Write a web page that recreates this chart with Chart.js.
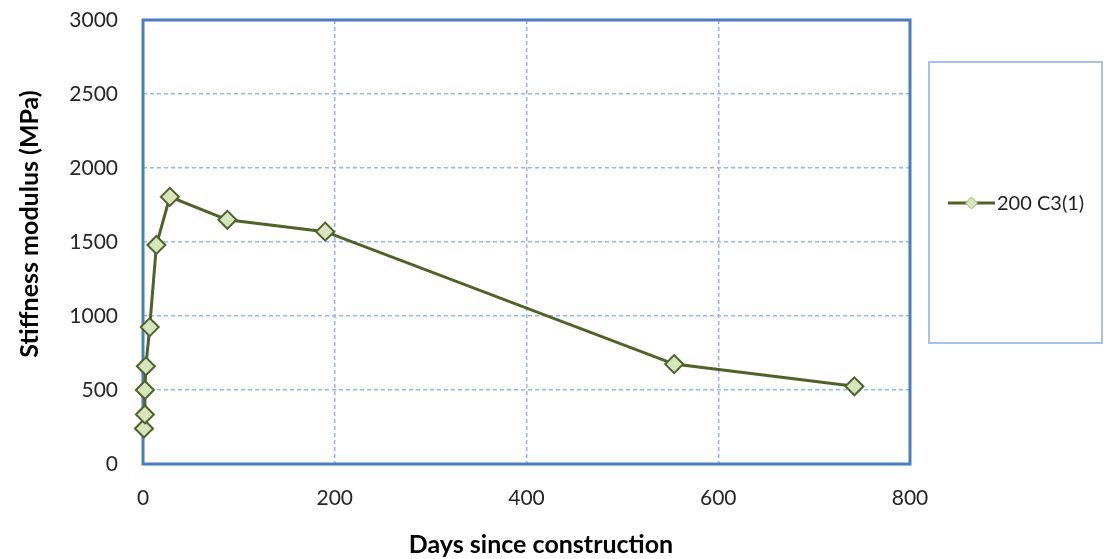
<!DOCTYPE html>
<html>
<head>
<meta charset="utf-8">
<script src="https://cdn.jsdelivr.net/npm/chart.js@4.4.1/dist/chart.umd.min.js"></script>
<style>
  html, body { margin: 0; padding: 0; background: #ffffff; }
  #wrap { width: 1117px; height: 559px; }
</style>
</head>
<body>
<div id="wrap"><canvas id="c" width="1117" height="559"></canvas></div>
<script>
// Stiffness modulus of section 200 C3(1) against time since construction
const seriesLabel = '200 C3(1)';
const days = [1, 2, 2, 3, 7, 14, 28, 88, 190, 554, 742];
const stiffness = [240, 335, 500, 660, 925, 1480, 1805, 1650, 1570, 675, 525];
const xTicks = [0, 200, 400, 600, 800];
const yTicks = [0, 500, 1000, 1500, 2000, 2500, 3000];
const xTitle = 'Days since construction';
const yTitle = 'Stiffness modulus (MPa)';

const FONT = 'Lato, "Open Sans", sans-serif';
const LINE = '#4F6228';
const FILL = '#D7E4BD';
const FRAME = '#4A7EBB';
const GRID = '#95B9E6';

const points = days.map((d, i) => ({ x: d, y: stiffness[i] }));

// Blue frame round the plot area, drawn before the markers so they sit on top
const framePlugin = {
  id: 'frame',
  beforeDatasetsDraw(chart) {
    const { ctx, chartArea: a } = chart;
    ctx.save();
    ctx.strokeStyle = FRAME;
    ctx.lineWidth = 3;
    ctx.strokeRect(a.left, a.top, a.right - a.left, a.bottom - a.top);
    ctx.restore();
  }
};

// Axis titles in bold
const titlesPlugin = {
  id: 'axisTitles',
  afterDraw(chart) {
    const { ctx } = chart;
    ctx.save();
    ctx.fillStyle = '#000000';
    ctx.font = 'bold 25px ' + FONT;
    ctx.textAlign = 'center';
    ctx.textBaseline = 'middle';
    ctx.fillText(xTitle, 541, 545);
    ctx.translate(30, 224);
    ctx.rotate(-Math.PI / 2);
    ctx.fillText(yTitle, 0, 0);
    ctx.restore();
  }
};

// Boxed legend to the right of the plot
const legendBoxPlugin = {
  id: 'legendBox',
  afterDraw(chart) {
    const { ctx } = chart;
    const ds = chart.data.datasets[0];
    const box = { x: 929, y: 62, w: 173, h: 281 };
    ctx.save();
    ctx.strokeStyle = '#A7C2E6';
    ctx.lineWidth = 2;
    ctx.strokeRect(box.x, box.y, box.w, box.h);
    const cy = 203;
    ctx.strokeStyle = ds.borderColor;
    ctx.lineWidth = 3;
    ctx.beginPath();
    ctx.moveTo(948, cy);
    ctx.lineTo(995, cy);
    ctx.stroke();
    const r = 6;
    ctx.beginPath();
    ctx.moveTo(971.5, cy - r);
    ctx.lineTo(971.5 + r, cy);
    ctx.lineTo(971.5, cy + r);
    ctx.lineTo(971.5 - r, cy);
    ctx.closePath();
    ctx.fillStyle = ds.pointBackgroundColor;
    ctx.fill();
    ctx.strokeStyle = '#9BBB59';
    ctx.lineWidth = 1;
    ctx.stroke();
    ctx.fillStyle = '#222222';
    ctx.font = '20px ' + FONT;
    ctx.textAlign = 'left';
    ctx.textBaseline = 'middle';
    ctx.fillText(ds.label, 997, cy + 1);
    ctx.restore();
  }
};

new Chart(document.getElementById('c'), {
  type: 'scatter',
  data: {
    datasets: [{
      label: seriesLabel,
      data: points,
      showLine: true,
      borderColor: LINE,
      borderWidth: 3,
      pointStyle: 'rectRot',
      pointRadius: 9,
      pointHoverRadius: 9,
      pointBackgroundColor: FILL,
      pointBorderColor: LINE,
      pointBorderWidth: 2,
      clip: false,
      tension: 0
    }]
  },
  options: {
    responsive: false,
    animation: false,
    events: [],
    layout: { padding: { top: 20, right: 207, bottom: 0, left: 0 } },
    plugins: {
      legend: { display: false },
      tooltip: { enabled: false }
    },
    scales: {
      x: {
        type: 'linear',
        min: xTicks[0],
        max: xTicks[xTicks.length - 1],
        afterBuildTicks(scale) { scale.ticks = xTicks.map(v => ({ value: v })); },
        afterFit(scale) { scale.height = 95; },
        border: { display: false, dash: [4, 3] },
        grid: {
          color: GRID,
          lineWidth: 1.5,
          drawTicks: true,
          tickLength: 22,
          tickColor: 'rgba(0,0,0,0)'
        },
        ticks: {
          color: '#262626',
          font: { family: FONT, size: 21 },
          padding: 0,
          maxRotation: 0,
          callback: v => String(v)
        }
      },
      y: {
        type: 'linear',
        min: yTicks[0],
        max: yTicks[yTicks.length - 1],
        afterBuildTicks(scale) { scale.ticks = yTicks.map(v => ({ value: v })); },
        afterFit(scale) { scale.width = 143; },
        border: { display: false, dash: [4, 3] },
        grid: {
          color: GRID,
          lineWidth: 1.5,
          drawTicks: true,
          tickLength: 25,
          tickColor: 'rgba(0,0,0,0)'
        },
        ticks: {
          color: '#262626',
          font: { family: FONT, size: 21 },
          padding: 0,
          callback: v => String(v)
        }
      }
    }
  },
  plugins: [framePlugin, titlesPlugin, legendBoxPlugin]
});
</script>
</body>
</html>
